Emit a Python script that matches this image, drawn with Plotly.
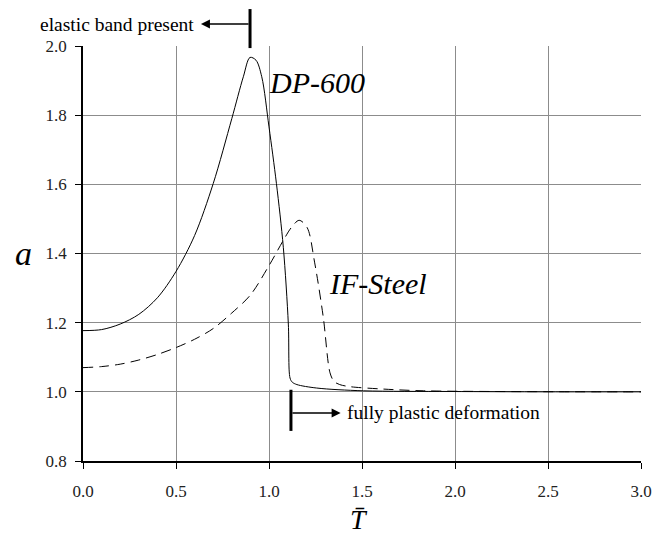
import plotly.graph_objects as go

# DP-600 (solid)
dp_x = [0.0, 0.1, 0.2, 0.3, 0.4, 0.5, 0.6, 0.7, 0.8, 0.862, 0.898,
        0.930, 0.961, 1.0, 1.04, 1.077, 1.104, 1.113, 1.125, 1.150, 1.256, 1.507, 1.973, 2.5, 3.0]
dp_y = [1.177, 1.180, 1.196, 1.224, 1.272, 1.348, 1.452, 1.602, 1.790, 1.911, 1.967,
        1.959, 1.911, 1.766, 1.602, 1.418, 1.196, 1.040, 1.028, 1.021, 1.011, 1.003, 1.001, 1.0, 1.0]

# IF-Steel (dashed)
if_x = [0.0, 0.1, 0.2, 0.3, 0.4, 0.5, 0.6, 0.7, 0.8, 0.9, 1.0, 1.077, 1.120, 1.162,
        1.205, 1.245, 1.292, 1.328, 1.350, 1.380, 1.435, 1.615, 1.83, 2.2, 3.0]
if_y = [1.070, 1.073, 1.080, 1.092, 1.108, 1.128, 1.152, 1.183, 1.228, 1.280, 1.365, 1.438, 1.475, 1.496,
        1.475, 1.375, 1.215, 1.055, 1.030, 1.021, 1.015, 1.008, 1.003, 1.001, 1.0]

x_ticks = [0.0, 0.5, 1.0, 1.5, 2.0, 2.5, 3.0]
y_ticks = [0.8, 1.0, 1.2, 1.4, 1.6, 1.8, 2.0]

FONT = "Liberation Serif"

fig = go.Figure()
fig.add_trace(go.Scatter(x=dp_x, y=dp_y, mode="lines",
                         line=dict(color="black", width=1, shape="spline", smoothing=0.9),
                         showlegend=False))
fig.add_trace(go.Scatter(x=if_x, y=if_y, mode="lines",
                         line=dict(color="black", width=1, dash="10px,6px", shape="spline", smoothing=0.9),
                         showlegend=False))

axis_common = dict(showgrid=True, gridcolor="#8c8c8c", gridwidth=1, zeroline=False,
                   showline=True, linecolor="black", linewidth=1.5,
                   ticks="outside", ticklen=6, tickcolor="black", tickwidth=1,
                   tickfont=dict(family=FONT, size=17, color="#222"))

fig.update_xaxes(range=[0, 3.0], tickvals=x_ticks, ticktext=[f"{v:.1f}" for v in x_ticks],
                 ticklabelstandoff=8, **axis_common)
fig.update_yaxes(range=[0.8, 2.0], tickvals=y_ticks, ticktext=[f"{v:.1f}" for v in y_ticks],
                 ticklabelstandoff=5, **axis_common)

annotations = [
    dict(x=0.99, y=1.895, xref="x", yref="y", text="<i>DP-600</i>", showarrow=False,
         xanchor="left", yanchor="middle", font=dict(family=FONT, size=30, color="black")),
    dict(x=1.31, y=1.313, xref="x", yref="y", text="<i>IF-Steel</i>", showarrow=False,
         xanchor="left", yanchor="middle", font=dict(family=FONT, size=30, color="black")),
    dict(x=0.608, y=1.053, xref="x", yref="paper", text="elastic band present", showarrow=False,
         xanchor="right", yanchor="middle", font=dict(family=FONT, size=19.5, color="black")),
    dict(x=0.634, y=1.053, xref="x", yref="paper", ax=0.898, ay=0, axref="x", ayref="pixel",
         text="", showarrow=True, arrowhead=2, arrowsize=1.2, arrowwidth=1.5, arrowcolor="black"),
    dict(x=1.409, y=0.939, xref="x", yref="y", text="fully plastic deformation", showarrow=False,
         xanchor="left", yanchor="middle", font=dict(family=FONT, size=19.5, color="black")),
    dict(x=1.385, y=0.939, xref="x", yref="y", ax=1.118, ay=0.939, axref="x", ayref="y",
         text="", showarrow=True, arrowhead=2, arrowsize=1.2, arrowwidth=1.5, arrowcolor="black"),
    dict(x=-0.107, y=0.5, xref="paper", yref="paper", text="<i>a</i>", showarrow=False,
         xanchor="center", yanchor="middle", font=dict(family=FONT, size=34, color="black")),
    dict(x=0.495, y=-0.141, xref="paper", yref="paper", text="<i>T̄</i>", showarrow=False,
         xanchor="center", yanchor="middle", font=dict(family=FONT, size=28, color="black")),
]

shapes = [
    dict(type="line", xref="x", yref="paper", x0=0.898, x1=0.898, y0=0.995, y1=1.089,
         line=dict(color="black", width=3)),
    dict(type="line", xref="x", yref="y", x0=1.118, x1=1.118, y0=0.887, y1=1.006,
         line=dict(color="black", width=3)),
]

fig.update_layout(width=666, height=534, margin=dict(l=83, r=25, t=46, b=73),
                  plot_bgcolor="white", paper_bgcolor="white",
                  annotations=annotations, shapes=shapes,
                  font=dict(family=FONT))

fig.write_html("out.html")
